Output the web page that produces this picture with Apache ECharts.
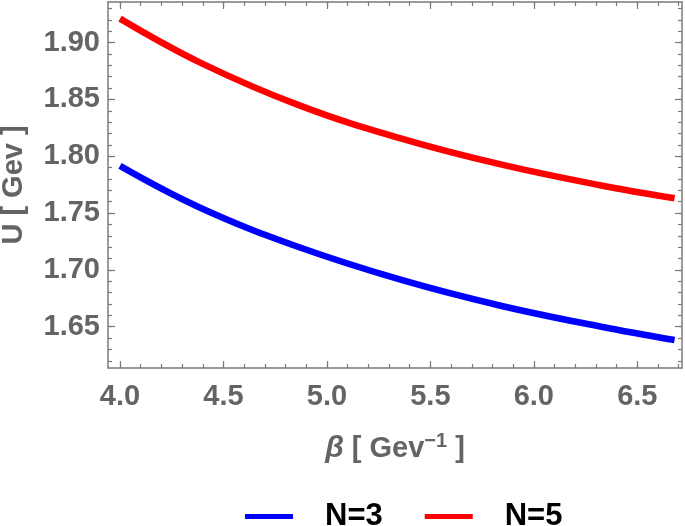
<!DOCTYPE html>
<html>
<head>
<meta charset="utf-8">
<script src="https://cdn.jsdelivr.net/npm/echarts@6/dist/echarts.min.js"></script>
<style>
  html, body { margin: 0; padding: 0; background: #fff; }
  #chart { width: 685px; height: 526px; }
</style>
</head>
<body>
<div id="chart"></div>
<script>
const beta = [4.0, 4.39, 4.87, 5.36, 5.84, 6.32, 6.68];
// U [Gev] for N=3 (blue) and N=5 (red)
const uN3 = [1.7915, 1.7545, 1.7197, 1.6912, 1.6685, 1.6502, 1.6383];
const uN5 = [1.9211, 1.8822, 1.8445, 1.8155, 1.7928, 1.7745, 1.763];
// tick labels
const xTicks = [4.0, 4.5, 5.0, 5.5, 6.0, 6.5];
const yTicks = [1.65, 1.70, 1.75, 1.80, 1.85, 1.90];

const xMin = 3.942, xMax = 6.716;
const yMin = 1.6137, yMax = 1.9357;

// minor ticks, every 0.1 on x and 0.01 on y
const xMinor = [];
for (let i = 40; i <= 67; i++) xMinor.push(i / 10);
const yMinor = [];
for (let i = 162; i <= 193; i++) yMinor.push(i / 100);

const axisColor = "#7a7a7a";
const labelColor = "#646464";
const font = "Liberation Sans";

function xAx(pos, ticks, len, labels, line) {
  return {
    type: "value", position: pos, min: xMin, max: xMax,
    axisLine: { show: line, onZero: false, lineStyle: { color: axisColor, width: 1.5 } },
    axisTick: { show: true, inside: true, length: len, customValues: ticks, lineStyle: { color: axisColor, width: 1.2 } },
    axisLabel: labels ? {
      show: true, customValues: ticks, margin: 14,
      color: labelColor, fontSize: 29, fontWeight: "bold", fontFamily: font,
      formatter: (v) => v.toFixed(1),
    } : { show: false },
    splitLine: { show: false },
  };
}
function yAx(pos, ticks, len, labels, line) {
  return {
    type: "value", position: pos, min: yMin, max: yMax,
    axisLine: { show: line, onZero: false, lineStyle: { color: axisColor, width: 1.5 } },
    axisTick: { show: true, inside: true, length: len, customValues: ticks, lineStyle: { color: axisColor, width: 1.2 } },
    axisLabel: labels ? {
      show: true, customValues: ticks, margin: 8,
      color: labelColor, fontSize: 29, fontWeight: "bold", fontFamily: font,
      formatter: (v) => v.toFixed(2),
    } : { show: false },
    splitLine: { show: false },
  };
}

const xMain = xAx("bottom", xTicks, 7, true, true);
xMain.name = "{b|β} [ Gev{s|−1} ]";
xMain.nameLocation = "middle";
xMain.nameGap = 63;
xMain.nameTextStyle = {
  color: labelColor, fontSize: 29, fontWeight: "bold", fontFamily: font,
  rich: {
    b: { fontStyle: "italic", fontWeight: "bold", fontSize: 30, fontFamily: font, color: labelColor },
    s: { fontSize: 20, fontWeight: "bold", fontFamily: font, color: labelColor, verticalAlign: "top", lineHeight: 36 },
  },
};

const yMain = yAx("left", yTicks, 7, true, true);
yMain.name = "U [ Gev ]";
yMain.nameLocation = "middle";
yMain.nameGap = 80;
yMain.nameTextStyle = { color: labelColor, fontSize: 29, fontWeight: "bold", fontFamily: font };

const chart = echarts.init(document.getElementById("chart"));
chart.setOption({
  backgroundColor: "#fff",
  animation: false,
  grid: { left: 108, right: 3, top: 2, bottom: 158, containLabel: false, outerBoundsMode: "none" },
  xAxis: [
    xMain,
    xAx("bottom", xMinor, 4, false, false),
    xAx("top", xTicks, 7, false, true),
    xAx("top", xMinor, 4, false, false),
  ],
  yAxis: [
    yMain,
    yAx("left", yMinor, 4, false, false),
    yAx("right", yTicks, 7, false, true),
    yAx("right", yMinor, 4, false, false),
  ],
  legend: {
    left: 245, top: 501, padding: 0,
    icon: "rect", itemWidth: 48, itemHeight: 5, itemGap: 42,
    textStyle: { color: "#000", fontSize: 31, fontWeight: "bold", fontFamily: font, padding: [0, 0, 0, 27] },
    data: ["N=3", "N=5"],
  },
  series: [
    {
      name: "N=3", type: "line", smooth: 0.4, showSymbol: false,
      xAxisIndex: 0, yAxisIndex: 0,
      data: beta.map((b, i) => [b, uN3[i]]),
      lineStyle: { color: "#0000ff", width: 6.5, cap: "butt" },
      itemStyle: { color: "#0000ff" },
    },
    {
      name: "N=5", type: "line", smooth: 0.4, showSymbol: false,
      xAxisIndex: 0, yAxisIndex: 0,
      data: beta.map((b, i) => [b, uN5[i]]),
      lineStyle: { color: "#ff0000", width: 6.5, cap: "butt" },
      itemStyle: { color: "#ff0000" },
    },
  ],
});
</script>
</body>
</html>
